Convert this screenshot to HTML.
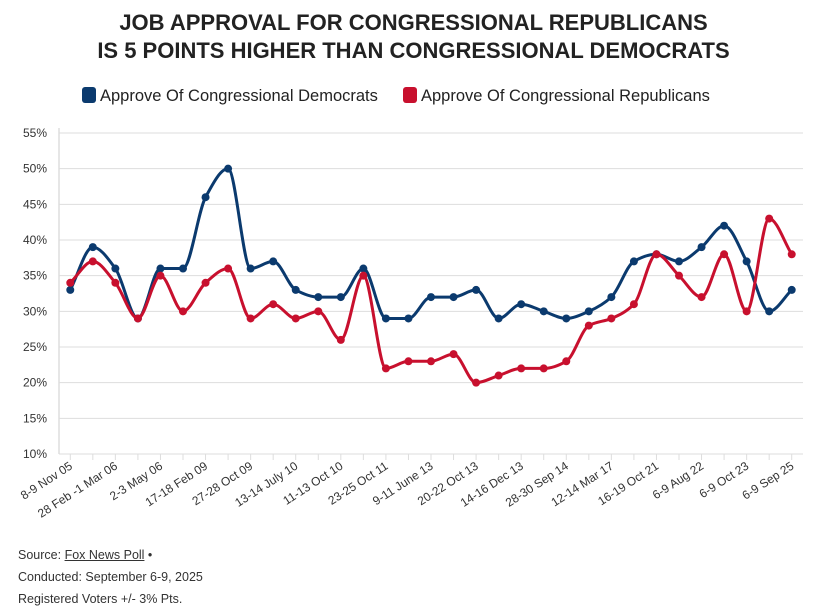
<!DOCTYPE html>
<html><head><meta charset="utf-8"><style>
body{margin:0;background:#fff;font-family:"Liberation Sans",Arial,sans-serif;}
#wrap{position:relative;width:827px;height:609px;overflow:hidden;}
.title{position:absolute;left:0;width:827px;text-align:center;font-weight:bold;font-size:22px;color:#222;top:9px;line-height:28px;}
.src{position:absolute;left:18px;font-size:12.5px;color:#333;}
</style></head><body>
<div id="wrap">
<div class="title">JOB APPROVAL FOR CONGRESSIONAL REPUBLICANS<br>IS 5 POINTS HIGHER THAN CONGRESSIONAL DEMOCRATS</div>
<svg id="chart" width="827" height="609" style="position:absolute;left:0;top:0"></svg>
<div class="src" style="top:548px">Source: <u>Fox News Poll</u> •</div>
<div class="src" style="top:570px">Conducted: September 6-9, 2025</div>
<div class="src" style="top:592px">Registered Voters +/- 3% Pts.</div>
</div>
<script>
const categories=["8-9 Nov 05","","28 Feb -1 Mar 06","","2-3 May 06","","17-18 Feb 09","","27-28 Oct 09","","13-14 July 10","","11-13 Oct 10","","23-25 Oct 11","","9-11 June 13","","20-22 Oct 13","","14-16 Dec 13","","28-30 Sep 14","","12-14 Mar 17","","16-19 Oct 21","","6-9 Aug 22","","6-9 Oct 23","","6-9 Sep 25"];
const democrats=[33,39,36,29,36,36,46,50,36,37,33,32,32,36,29,29,32,32,33,29,31,30,29,30,32,37,38,37,39,42,37,30,33];
const republicans=[34,37,34,29,35,30,34,36,29,31,29,30,26,35,22,23,23,24,20,21,22,22,23,28,29,31,38,35,32,38,30,43,38];
const yTicks=[10,15,20,25,30,35,40,45,50,55];
const NS="http://www.w3.org/2000/svg";
const svg=document.getElementById('chart');
const L=59,R=803,T=133,B=454;
const band=(R-L)/categories.length;
function x(i){return L+band*(i+0.5);}
function y(v){return B-(v-10)/45*(B-T);}
function mk(t,a){const e=document.createElementNS(NS,t);for(const k in a)e.setAttribute(k,a[k]);svg.appendChild(e);return e;}
yTicks.forEach(v=>{
 const g=mk('line',{x1:L,x2:R,y1:y(v),y2:y(v),stroke:'#ddd','stroke-width':1});
 
 
 const t=mk('text',{x:L-12,y:y(v)+4,'text-anchor':'end','font-size':12,fill:'#333'});
 t.textContent=v+'%';
 
 
});
const ax=mk('line',{x1:L,x2:L,y1:T-5,y2:B,stroke:'#ddd','stroke-width':1.5});


categories.forEach((c,i)=>{
 const tk=mk('line',{x1:x(i),x2:x(i),y1:B,y2:B+6,stroke:'#ddd'});
 
 
 if(c){
  const t=mk('text',{x:x(i)+3,y:B+14,'text-anchor':'end','font-size':12,fill:'#333',transform:`rotate(-33 ${x(i)+3} ${B+14})`});
  t.textContent=c;
  
  
 }
});
function path(vals){
 const p=vals.map((v,i)=>[x(i),y(v)]);
 const n=p.length,h=band;
 const s=[];for(let i=0;i<n-1;i++)s.push((p[i+1][1]-p[i][1])/h);
 const m=[];
 for(let i=0;i<n;i++){
  if(i==0)m.push(s[0]);else if(i==n-1)m.push(s[n-2]);
  else{const a=s[i-1],b=s[i];m.push(a*b<=0?0:(2*a*b)/(a+b)*0.9+0.1*(a+b)/2);}
 }
 let d='M'+p[0][0]+','+p[0][1];
 for(let i=0;i<n-1;i++){
  d+=` C${p[i][0]+h/3},${p[i][1]+m[i]*h/3} ${p[i+1][0]-h/3},${p[i+1][1]-m[i+1]*h/3} ${p[i+1][0]},${p[i+1][1]}`;
 }
 return d;
}
[[democrats,'#0b3a6e','democrats'],[republicans,'#c8102e','republicans']].forEach(([vals,col,nm])=>{
 const l=mk('path',{d:path(vals),fill:'none',stroke:col,'stroke-width':3});
 
 
 vals.forEach((v,i)=>{
  const c=mk('circle',{cx:x(i),cy:y(v),r:4,fill:col});
  
  
 });
});
const legend=[['Approve Of Congressional Democrats','#0b3a6e',82],['Approve Of Congressional Republicans','#c8102e',403]];
legend.forEach(([t,col,lx])=>{
 const r=mk('rect',{x:lx,y:87,width:14,height:16,rx:3,fill:col});
 
 
 const tx=mk('text',{x:lx+18,y:101,'font-size':16.5,fill:'#222'});
 tx.textContent=t;
 
 
});
</script>
</body></html>
